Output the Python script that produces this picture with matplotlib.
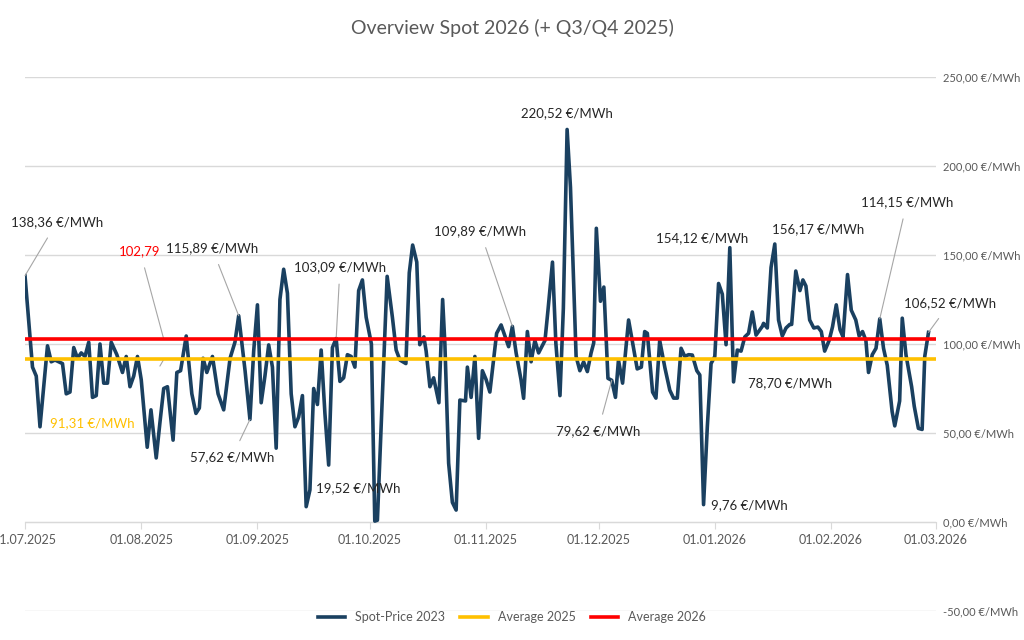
import matplotlib
matplotlib.use("Agg")
import matplotlib.pyplot as plt
import matplotlib.dates as mdates
import numpy as np
import pandas as pd

plt.rcParams['font.family'] = ['Lato', 'DejaVu Sans']

# day offsets from 01.07.2025 (line vertices) and prices in EUR/MWh
startDate = pd.Timestamp("2025-07-01")
dayOffsets = [0, 2, 3, 4, 6, 7, 8, 10, 11, 12, 13, 14, 15, 16, 17, 18, 19, 20, 21, 22,
              23, 24.5, 26, 27, 28, 29, 30, 31, 32.6, 33.6, 35, 36, 37, 38, 39.5, 40.5, 41.5,
              43, 44.5, 45.6, 46.5, 47.5, 48.5, 49.5, 50, 51.5, 53, 54.7, 56, 57, 58.7, 60,
              61, 62, 63, 64, 65, 66, 67, 68, 69, 70, 71, 72, 73, 74, 75, 76, 77, 78, 79, 80,
              81, 82, 83, 84, 85, 86, 87, 88, 89, 90, 91, 92.4, 93.3, 94, 96.6, 98, 99, 100,
              101.6, 102.5, 103.4, 104.5, 105.3, 106.4, 107, 108, 109, 110.4, 111.4, 112, 113,
              114, 115, 116, 117.5, 118, 119, 120, 121, 122, 123, 124, 125.8, 127, 129, 130,
              131, 132.3, 133, 134, 135, 136, 137, 138.7, 139.5, 140.7, 141.6, 142.7, 143.6,
              144.6, 145.5, 147, 148, 149, 150, 151, 151.7, 152.4, 153.5, 154.4, 155.5, 156.5,
              157.5, 158.3, 159.4, 161, 162.4, 163.3, 164.4, 165.3, 166, 167.4, 168.3, 169.3,
              170.7, 172, 173, 174, 175, 176, 177, 178, 179.2, 180, 181, 182, 183, 184, 185,
              186, 187, 188, 189, 190, 191, 192, 193, 194, 195, 196.7, 197, 198, 199, 200,
              201, 202, 203, 204, 204.5, 205.6, 206.7, 207.5, 208.3, 209.3, 210.4, 211.5,
              212.4, 213.3, 214.5, 215.4, 216.4, 217.4, 218.2, 219.4, 220.4, 221.6, 222.5,
              223.4, 224.3, 225, 226, 227, 228, 229, 230, 231.3, 232, 233.3, 234, 235, 236.5,
              237.2, 238.3, 239.3, 240, 241]
spotPrices = [138.36, 87, 82, 53.5, 99, 90, 91, 89, 72, 73, 98, 92, 95, 93, 101, 70, 71, 100, 78, 78,
              101, 94, 84, 93, 76, 82, 93, 80, 42, 63, 36, 56, 75, 76, 46, 84, 85,
              104.5, 72, 61, 64, 92, 84, 90, 93, 72, 63, 92, 101, 115.89, 85, 57.62,
              96, 122, 67, 82, 99.5, 87, 41.5, 125, 142, 128.5, 72, 53.5, 59, 71, 8.6, 18, 75, 66, 96.6, 61,
              32, 98, 103.09, 79, 81, 94, 93, 87, 130, 136, 115, 100, 0.5, 1, 138, 115, 96.6, 91,
              89, 140, 155.6, 146, 99.6, 104, 96, 76, 81, 67, 125, 100, 33,
              11, 6.7, 68.5, 68, 87, 70, 93, 47, 85, 80, 73, 106, 110.7, 98.5, 109.89,
              95, 80, 69.5, 107, 90, 102, 95, 102, 119, 146, 100.5, 71, 120,
              220.52, 188, 93, 85, 90, 84.5, 95, 100.6, 165, 124, 132, 80.7, 79.62,
              70, 91, 78, 113.5, 96.6, 86, 87, 107, 106, 73, 69.6, 102,
              86.5, 74, 69.6, 69.6, 97.6, 93, 94, 93.8, 85, 82.6, 9.76, 53.5, 89, 93, 134,
              128, 99.6, 154.12, 78.70, 96.6, 96, 104, 106, 118, 105, 110, 111.6, 109, 143, 156.17,
              113.5, 104.5, 109, 111, 111, 141, 130, 136, 132.6, 113.5, 109, 109.5,
              107, 96, 102, 109.7, 122, 108, 104, 139, 119, 113.5, 104.5,
              107, 102, 84, 94, 97.6, 114.15, 97.6, 88, 62, 54, 68, 114.5, 93.8, 76,
              65, 52.6, 52, 93, 106.52]
average2025 = 91.31
average2026 = 102.79

tickDates = pd.date_range("2025-07-01", "2026-03-01", freq="MS")

# (label, day offset of point, value, text x px, text y px, draw leader)
annotations = [
    ("138,36 €/MWh", 0, 138.36, 57, 222, True),
    ("115,89 €/MWh", 57, 115.89, 212, 248, True),
    ("57,62 €/MWh", 60, 57.62, 232, 457, True),
    ("103,09 €/MWh", 83, 103.09, 340, 267, True),
    ("19,52 €/MWh", 93.3, 19.52, 358, 488, False),
    ("220,52 €/MWh", 144.6, 220.52, 567, 113, False),
    ("109,89 €/MWh", 130, 109.89, 480, 231, True),
    ("79,62 €/MWh", 156.5, 79.62, 598, 431, True),
    ("154,12 €/MWh", 188, 154.12, 702, 238, False),
    ("156,17 €/MWh", 200, 156.17, 818, 229, False),
    ("78,70 €/MWh", 189, 78.70, 790, 383, False),
    ("9,76 €/MWh", 181, 9.76, 749, 505, False),
    ("114,15 €/MWh", 228, 114.15, 907, 202, True),
    ("106,52 €/MWh", 241, 106.52, 950, 303, True),
]

dates = startDate + pd.to_timedelta(dayOffsets, unit="D")

fig = plt.figure(figsize=(10.24, 6.4), dpi=100)
ax = fig.add_axes([25/1024, 1-611/640, (936-25)/1024, (611-77)/640])

gray = "#595959"
ax.set_ylim(-50, 250)
ax.set_xlim(startDate, pd.Timestamp("2026-03-01"))
ax.set_yticks(np.arange(-50, 251, 50))
ax.yaxis.tick_right()
ax.set_yticklabels([f"{v:,.2f} €/MWh".replace(".", ",") for v in np.arange(-50, 251, 50)],
                   color=gray, fontsize=8)
ax.tick_params(axis="y", length=0, pad=5)
ax.grid(axis="y", color="#d9d9d9", linewidth=1)
ax.set_axisbelow(True)
for s in ["top", "right", "left"]:
    ax.spines[s].set_visible(False)
ax.spines["bottom"].set_position(("data", 0))
ax.spines["bottom"].set_color("#d9d9d9")
ax.set_xticks(tickDates)
ax.xaxis.set_major_formatter(mdates.DateFormatter("%d.%m.%Y"))
ax.tick_params(axis="x", colors="#d9d9d9", labelcolor=gray, labelsize=9, length=5, direction="out")

ax.plot(dates, spotPrices, color="#1a4060", linewidth=2.6, label="Spot-Price 2023", zorder=3)
ax.axhline(average2025, color="#ffc000", linewidth=2.6, label="Average 2025", zorder=4)
ax.axhline(average2026, color="#ff0000", linewidth=2.6, label="Average 2026", zorder=4)

for label, off, val, tx, ty, leader in annotations:
    xy = (startDate + pd.Timedelta(days=off), val)
    ax.annotate(label, xy=xy, xytext=(tx, 640 - ty), textcoords="figure pixels",
                ha="center", va="center", fontsize=9.5, color="#262626",
                arrowprops=dict(arrowstyle="-", color="#a6a6a6", lw=0.8, shrinkA=6, shrinkB=0) if leader else None)

midDate = startDate + pd.Timedelta(days=37)
ax.annotate("102,79", xy=(midDate, average2026), xytext=(140, 640 - 251), textcoords="figure pixels",
            ha="center", va="center", fontsize=9.5, color="#ff0000",
            arrowprops=dict(arrowstyle="-", color="#a6a6a6", lw=0.8, shrinkA=6, shrinkB=0))
ax.annotate("91,31 €/MWh", xy=(midDate, average2025), xytext=(92, 640 - 423), textcoords="figure pixels",
            ha="center", va="center", fontsize=9.5, color="#ffc000",
            arrowprops=dict(arrowstyle="-", color="#a6a6a6", lw=0.8, shrinkA=40, shrinkB=0,
                            connectionstyle="angle,angleA=0,angleB=60"))

fig.text(0.5, 1 - 28/640, "Overview Spot 2026 (+ Q3/Q4 2025)", ha="center", va="center",
         fontsize=14, color=gray)
fig.legend(loc="center", bbox_to_anchor=(0.5, 1 - 617/640), ncol=3, frameon=False,
           fontsize=9, labelcolor=gray, handlelength=2.2, columnspacing=1.2)

fig.savefig("out.png", dpi=100)
